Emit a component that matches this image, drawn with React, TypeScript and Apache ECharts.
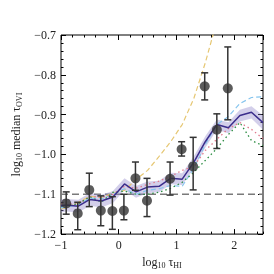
import React, { useEffect, useRef } from "react";
import * as echarts from "echarts";

// ---- axes ----
const xMin = -1;
const xMax = 2.5;
const yMin = -1.2;
const yMax = -0.7;
const refLevel = -1.1;

// ---- observed points with error bars ----
const obsX = [-0.91, -0.71, -0.51, -0.31, -0.11, 0.09, 0.29, 0.49, 0.89, 1.09, 1.29, 1.49, 1.7, 1.89];
const obsY = [-1.123, -1.148, -1.089, -1.141, -1.142, -1.141, -1.06, -1.116, -1.061, -0.987, -1.03, -0.829, -0.938, -0.834];
const obsLo = [-1.15, -1.189, -1.131, -1.179, -1.188, -1.164, -1.09, -1.156, -1.102, -1.004, -1.089, -0.863, -0.985, -0.913];
const obsHi = [-1.094, -1.12, -1.047, -1.104, -1.106, -1.1, -1.019, -1.06, -1.019, -0.968, -0.957, -0.795, -0.898, -0.73];

// ---- model curves ----
const modelX = [-1.0, -0.9, -0.7, -0.5, -0.3, -0.1, 0.1, 0.3, 0.5, 0.7, 0.9, 1.1, 1.3, 1.5, 1.7, 1.9, 2.1, 2.3, 2.5];
const mainY = [-1.129, -1.127, -1.13, -1.113, -1.117, -1.107, -1.074, -1.094, -1.082, -1.08, -1.06, -1.062, -1.02, -0.968, -0.925, -0.933, -0.902, -0.894, -0.92];
const bandHi = [-1.113, -1.112, -1.114, -1.097, -1.101, -1.092, -1.06, -1.079, -1.068, -1.066, -1.046, -1.047, -1.005, -0.954, -0.912, -0.919, -0.888, -0.879, -0.902];
const bandLo = [-1.145, -1.143, -1.146, -1.129, -1.133, -1.122, -1.089, -1.109, -1.097, -1.095, -1.075, -1.077, -1.036, -0.983, -0.938, -0.947, -0.917, -0.91, -0.938];
const blueY = [-1.134, -1.132, -1.126, -1.11, -1.112, -1.1, -1.086, -1.1, -1.09, -1.086, -1.078, -1.08, -1.035, -0.975, -0.925, -0.905, -0.872, -0.857, -0.855];
const pinkY = [-1.124, -1.122, -1.125, -1.105, -1.108, -1.1, -1.08, -1.085, -1.075, -1.067, -1.055, -1.04, -1.03, -0.99, -0.962, -0.935, -0.92, -0.937, -0.96];
const greenY = [-1.13, -1.128, -1.124, -1.106, -1.12, -1.095, -1.092, -1.1, -1.1, -1.095, -1.085, -1.07, -1.045, -1.015, -0.985, -0.95, -0.92, -0.965, -0.978];
const yellowX = [-1.0, -0.9, -0.7, -0.5, -0.3, -0.1, 0.1, 0.3, 0.5, 0.7, 0.9, 1.1, 1.3, 1.5, 1.7];
const yellowY = [-1.136, -1.134, -1.12, -1.105, -1.108, -1.097, -1.09, -1.063, -1.04, -1.005, -0.968, -0.925, -0.86, -0.77, -0.665];

const FONT = "Liberation Serif";
const TXT = "#222";

const pair = (xs: number[], ys: number[]) => xs.map((x, i) => [x, ys[i]]);

export default function App() {
  const ref = useRef<HTMLDivElement>(null);
  useEffect(() => {
    const chart = echarts.init(ref.current!, null, { renderer: "svg" });
    const fmt = (v: number) => {
      if (Math.abs(v - xMax) < 1e-9) return "";
      const s = Math.abs(v) < 1e-9 ? "0" : String(Math.abs(Math.round(v * 10) / 10));
      return v < -1e-9 ? "\u2212" + s : s;
    };
    const fmtY = (v: number) => "\u2212" + Math.abs(v).toFixed(1);

    const baseX = {
      type: "value",
      min: xMin,
      max: xMax,
      axisLine: { show: false, onZero: false },
      splitLine: { show: false },
    };
    const baseY = {
      type: "value",
      min: yMin,
      max: yMax,
      axisLine: { show: false, onZero: false },
      splitLine: { show: false },
    };
    const tickStyle = { color: "#000", width: 1 };

    const option: any = {
      animation: false,
      grid: {
        left: 61,
        right: 11,
        top: 35,
        bottom: 37,
        show: true,
        borderColor: "#000",
        borderWidth: 1,
        backgroundColor: "transparent",
      },
      xAxis: [
        {
          ...baseX,
          position: "bottom",
          interval: 1,
          axisTick: { inside: true, length: 5, lineStyle: tickStyle },
          axisLabel: { formatter: fmt, margin: 5, fontFamily: FONT, fontSize: 12, color: TXT, showMaxLabel: false },
          name: "{n|log}{s|10}{n| \u03c4}{s|HI}",
          nameLocation: "middle",
          nameGap: 18,
          nameTextStyle: {
            rich: {
              n: { fontFamily: FONT, fontSize: 12, color: TXT, lineHeight: 14 },
              s: { fontFamily: FONT, fontSize: 8, color: TXT, verticalAlign: "bottom", lineHeight: 14, padding: [5, 0, 0, 0] },
            },
          },
        },
        {
          ...baseX,
          position: "top",
          interval: 1,
          axisTick: { inside: true, length: 5, lineStyle: tickStyle },
          axisLabel: { show: false },
        },
        {
          ...baseX,
          position: "bottom",
          interval: 0.2,
          axisTick: { inside: true, length: 2.5, lineStyle: tickStyle },
          axisLabel: { show: false },
        },
        {
          ...baseX,
          position: "top",
          interval: 0.2,
          axisTick: { inside: true, length: 2.5, lineStyle: tickStyle },
          axisLabel: { show: false },
        },
      ],
      yAxis: [
        {
          ...baseY,
          position: "left",
          interval: 0.1,
          axisTick: { inside: true, length: 5, lineStyle: tickStyle },
          axisLabel: { formatter: fmtY, margin: 5, fontFamily: FONT, fontSize: 12, color: TXT },
          minorTick: { show: true, splitNumber: 5, length: 2.5, lineStyle: tickStyle },
          name: "{n|log}{s|10}{n| median \u03c4}{s|OVI}",
          nameLocation: "middle",
          nameRotate: 90,
          nameGap: 38,
          nameTextStyle: {
            rich: {
              n: { fontFamily: FONT, fontSize: 12, color: TXT, lineHeight: 14 },
              s: { fontFamily: FONT, fontSize: 8, color: TXT, verticalAlign: "bottom", lineHeight: 14, padding: [5, 0, 0, 0] },
            },
          },
        },
        {
          ...baseY,
          position: "right",
          interval: 0.1,
          axisTick: { inside: true, length: 5, lineStyle: tickStyle },
          axisLabel: { show: false },
          minorTick: { show: true, splitNumber: 5, length: 2.5, lineStyle: tickStyle },
        },
      ],
      series: [
        {
          type: "line",
          z: 1,
          data: [[xMin, refLevel], [xMax, refLevel]],
          symbol: "none",
          lineStyle: { color: "#7a7a7a", width: 1.5, type: [7, 4] },
        },
        {
          type: "custom",
          z: 2,
          data: [0],
          renderItem: (params: any, api: any) => {
            const upper = modelX.map((x, i) => api.coord([x, bandHi[i]]));
            const lower = modelX.map((x, i) => api.coord([x, bandLo[i]])).reverse();
            return {
              type: "polygon",
              shape: { points: upper.concat(lower) },
              style: { fill: "rgba(140,130,200,0.38)", stroke: "none" },
            };
          },
          clip: true,
        },
        {
          type: "line",
          z: 3,
          data: pair(yellowX, yellowY),
          symbol: "none",
          lineStyle: { color: "#e6c773", width: 1.2, type: [5, 3] },
        },
        {
          type: "line",
          z: 3,
          data: pair(modelX, blueY),
          symbol: "none",
          lineStyle: { color: "#86c5ee", width: 1.2, type: [5, 3] },
        },
        {
          type: "line",
          z: 3,
          data: pair(modelX, pinkY),
          symbol: "none",
          lineStyle: { color: "#e07a8c", width: 1.3, type: [1.5, 3] },
        },
        {
          type: "line",
          z: 3,
          data: pair(modelX, greenY),
          symbol: "none",
          lineStyle: { color: "#2a8c40", width: 1.3, type: [1.5, 3] },
        },
        {
          type: "line",
          z: 4,
          data: pair(modelX, mainY),
          symbol: "none",
          lineStyle: { color: "#3b2d8c", width: 1.5 },
        },
        {
          type: "custom",
          z: 5,
          data: obsX.map((x, i) => [x, obsLo[i], obsHi[i]]),
          renderItem: (params: any, api: any) => {
            const lo = api.coord([api.value(0), api.value(1)]);
            const hi = api.coord([api.value(0), api.value(2)]);
            const w = 3.5;
            const st = { stroke: "#333", lineWidth: 1.5 };
            return {
              type: "group",
              children: [
                { type: "line", shape: { x1: lo[0], y1: lo[1], x2: hi[0], y2: hi[1] }, style: st },
                { type: "line", shape: { x1: lo[0] - w, y1: lo[1], x2: lo[0] + w, y2: lo[1] }, style: st },
                { type: "line", shape: { x1: hi[0] - w, y1: hi[1], x2: hi[0] + w, y2: hi[1] }, style: st },
              ],
            };
          },
        },
        {
          type: "scatter",
          z: 6,
          data: pair(obsX, obsY),
          symbol: "circle",
          symbolSize: 10,
          itemStyle: { color: "#333" },
        },
      ],
    };
    chart.setOption(option);
    return () => chart.dispose();
  }, []);
  return <div ref={ref} style={{ position: "fixed", left: 0, top: 0, width: 274, height: 274 }} />;
}
